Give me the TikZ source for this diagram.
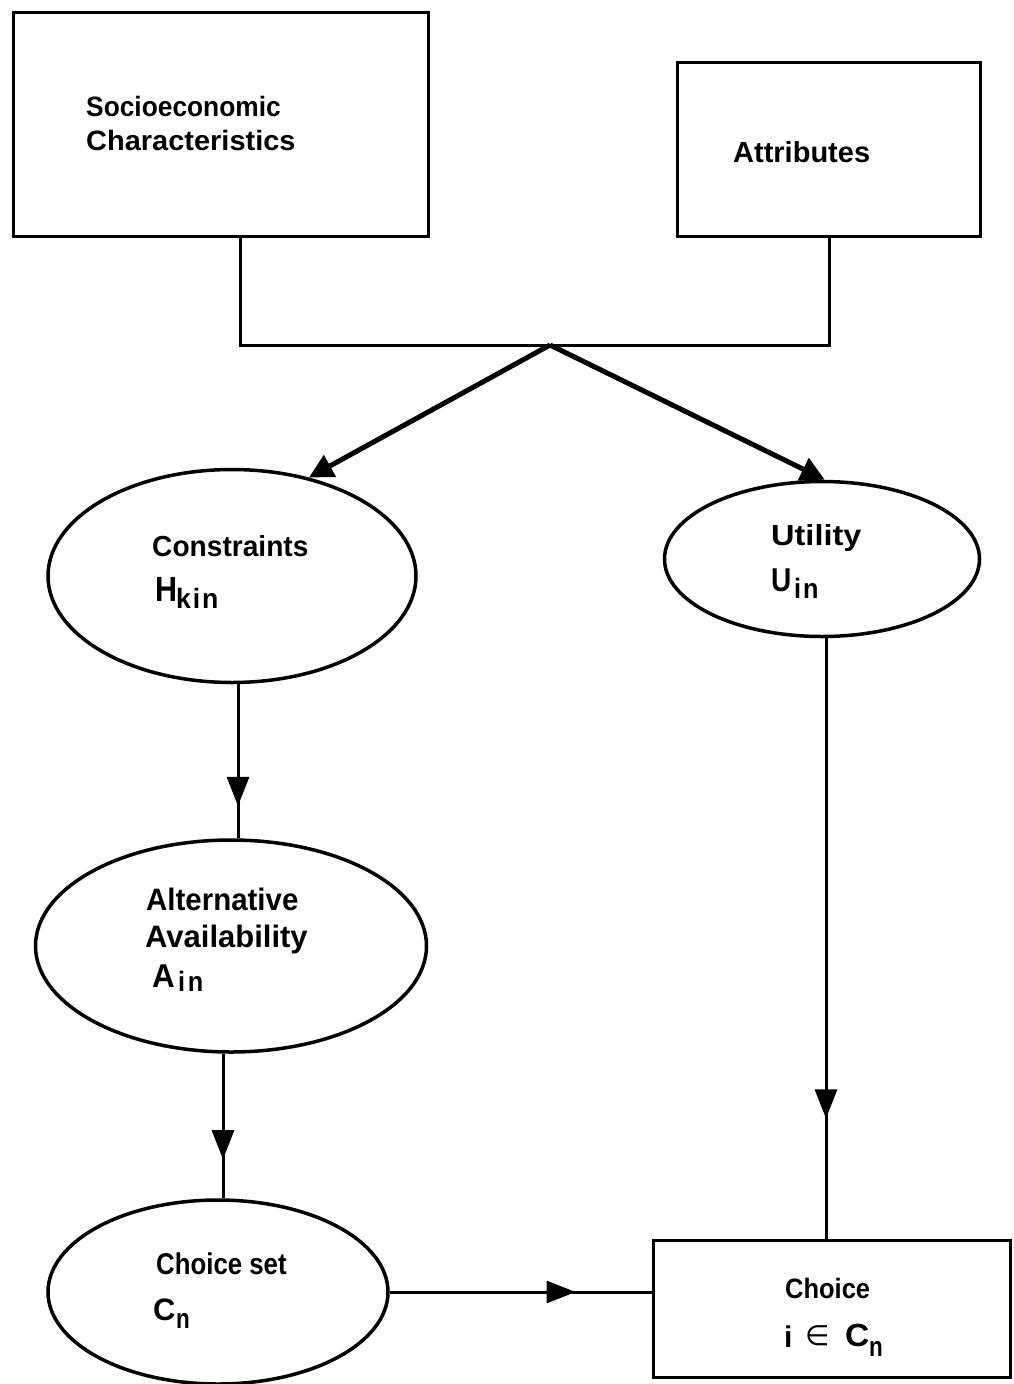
\documentclass[tikz,border=0pt]{standalone}
\usepackage{fontspec}
\usepackage{graphicx}
\setmainfont{Liberation Sans}
\newfontfamily\symfont{DejaVu Sans}
\usetikzlibrary{arrows.meta,decorations.markings,shapes.geometric}

% bold label text: size, horizontal scale, text
\newcommand{\sz}[3]{{\fontsize{#1}{#1}\selectfont\scalebox{#2}[1]{#3}}}

\begin{document}
\begin{tikzpicture}[x=1pt,y=-1pt,
  txt/.style={anchor=base west,inner sep=0pt,font=\bfseries},
  frame/.style={draw,line width=3pt,rectangle,inner sep=0pt},
  oval/.style={draw,line width=3.5pt,ellipse,inner sep=0pt},
  link/.style={line width=3pt},
  slant/.style={line width=5pt,-{Triangle[length=24pt,width=24pt]}},
  midarrow/.style={postaction={decorate},decoration={markings,
      mark=at position #1 with {\arrow{Triangle[length=29pt,width=22pt]}}}}]
\useasboundingbox (0,0) rectangle (1013,1384);

% input boxes
\node[frame,minimum width=415pt,minimum height=224pt] (se) at (220.5,124) {};
\node[frame,minimum width=303pt,minimum height=174pt] (att) at (828.5,149) {};
\node[txt] (se1) at (86,116) {\sz{28}{0.94}{Socioeconomic}};
\node[txt] (se2) at (86,150) {\sz{28}{1.035}{Characteristics}};
\node[txt] (att1) at (733,162) {\sz{29}{1.0}{Attributes}};

% ellipses
\node[oval,minimum width=368pt,minimum height=213pt] (con) at (232,576) {};
\node[oval,minimum width=315pt,minimum height=155pt] (ut) at (822,559) {};
\node[oval,minimum width=391pt,minimum height=212pt] (av) at (231,946) {};
\node[oval,minimum width=340pt,minimum height=184pt] (cs) at (218,1292) {};

\node[txt] (con1) at (152,556) {\sz{29}{0.97}{Constraints}};
\node[txt] (con2) at (155,601) {\sz{35}{0.87}{H}};
\node[txt] (con3) at (176,608) {\sz{28}{0.95}{k\kern2pt i\kern2pt n}};

\node[txt] (ut1) at (771,545) {\sz{29}{1.12}{Utility}};
\node[txt] (ut2) at (771,591) {\sz{33}{0.85}{U}};
\node[txt] (ut3) at (794,598) {\sz{28}{0.9}{i\kern2pt n}};

\node[txt] (av1) at (146,910) {\sz{31}{0.95}{Alternative}};
\node[txt] (av2) at (145,947) {\sz{31}{1.0}{Availability}};
\node[txt] (av3) at (152,987) {\sz{33}{0.95}{A}};
\node[txt] (av4) at (178,991) {\sz{28}{0.9}{i\kern3pt n}};

\node[txt] (cs1) at (156,1274) {\sz{30}{0.86}{Choice set}};
\node[txt] (cs2) at (153,1320) {\sz{31}{1.0}{C}};
\node[txt] (cs3) at (176,1328) {\sz{28}{0.8}{n}};

% result box
\node[frame,minimum width=357pt,minimum height=137pt] (ch) at (831.5,1308.5) {};
\node[txt] (ch1) at (785,1298) {\sz{28}{0.91}{Choice}};
\node[txt] (ch2) at (784,1347) {\sz{30}{1.0}{i}};
\node[txt] (ch3) at (805,1345) {\sz{28}{1.0}{\symfont\mdseries ∈}};
\node[txt] (ch4) at (845,1346) {\sz{32}{1.05}{C}};
\node[txt] (ch5) at (869,1356) {\sz{28}{0.8}{n}};

% joining bracket under the input boxes
\coordinate (b1) at (240,345);
\coordinate (b2) at (829,345);
\coordinate (j) at (550,345);
\draw[link] (b1 |- se.south) -- (b1) -- (b2) -- (b2 |- att.south);

% split arrows
\draw[slant] (j) -- (con.52);
\draw[slant] (j) -- (ut.88);

% flow arrows
\draw[link,midarrow=0.79] (con.south -| 238,0) -- (av.north -| 238,0);
\draw[link,midarrow=0.73] (av.south -| 223,0) -- (cs.north -| 223,0);
\draw[link,midarrow=0.71] (cs.east) -- (ch.west |- cs.east);
\draw[link,midarrow=0.80] (ut.south -| 826,0) -- (ch.north -| 826,0);
\end{tikzpicture}
\end{document}
